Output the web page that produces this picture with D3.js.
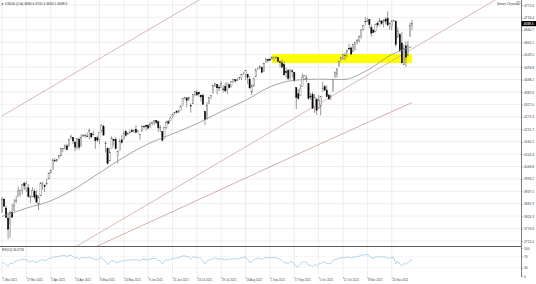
<!DOCTYPE html>
<html>
<head>
<meta charset="utf-8">
<script src="https://cdn.jsdelivr.net/npm/d3@7"></script>
<style>
html, body { margin: 0; padding: 0; background: #fff; }
svg { display: block; font-family: "Liberation Sans", Arial, sans-serif; }
</style>
</head>
<body>
<script>
// US500 (Cfd) daily, Mar - Dec 2021. CFD has bars on US holidays too.
const symbol = "US500 (Cfd)";
const indicatorName = "Smart Channel";

const barDays = [
  ["Mar", [1,2,3,4,5,8,9,10,11,12,15,16,17,18,19,22,23,24,25,26,29,30,31]],
  ["Apr", [1,2,5,6,7,8,9,12,13,14,15,16,19,20,21,22,23,26,27,28,29,30]],
  ["May", [3,4,5,6,7,10,11,12,13,14,17,18,19,20,21,24,25,26,27,28,31]],
  ["Jun", [1,2,3,4,7,8,9,10,11,14,15,16,17,18,21,22,23,24,25,28,29,30]],
  ["Jul", [1,2,5,6,7,8,9,12,13,14,15,16,19,20,21,22,23,26,27,28,29,30]],
  ["Aug", [2,3,4,5,6,9,10,11,12,13,16,17,18,19,20,23,24,25,26,27,30,31]],
  ["Sep", [1,2,3,6,7,8,9,10,13,14,15,16,17,20,21,22,23,24,27,28,29,30]],
  ["Oct", [1,4,5,6,7,8,11,12,13,14,15,18,19,20,21,22,25,26,27,28,29]],
  ["Nov", [1,2,3,4,5,8,9,10,11,12,15,16,17,18,19,22,23,24,25,26,29,30]],
  ["Dec", [1,2,3,6,7,8]]
];

// open, high, low, close
const ohlc = [
  // Mar
  [3842,3914,3842,3901],[3903,3906,3868,3870],[3863,3874,3818,3820],[3818,3843,3723,3768],[3793,3851,3730,3842],
  [3844,3881,3819,3821],[3851,3903,3848,3875],[3891,3917,3885,3898],[3915,3960,3915,3939],[3924,3944,3915,3943],
  [3942,3970,3924,3969],[3973,3981,3943,3962],[3949,3983,3935,3974],[3953,3969,3910,3915],[3913,3919,3885,3913],
  [3916,3956,3911,3941],[3937,3949,3901,3911],[3919,3942,3888,3889],[3880,3919,3853,3910],[3917,3978,3917,3975],
  [3969,3981,3944,3971],[3963,3968,3934,3959],[3967,3994,3965,3973],
  // Apr
  [3993,4021,3993,4020],[4020,4035,4018,4030],[4034,4084,4034,4078],[4075,4086,4068,4074],[4074,4083,4068,4080],
  [4089,4098,4082,4097],[4096,4129,4095,4129],[4124,4131,4114,4128],[4130,4148,4124,4141],[4141,4151,4120,4124],
  [4140,4173,4139,4170],[4175,4191,4171,4185],[4179,4181,4149,4163],[4159,4160,4118,4135],[4128,4175,4126,4173],
  [4171,4179,4123,4135],[4138,4194,4138,4180],[4185,4194,4182,4188],[4188,4193,4176,4187],[4185,4201,4181,4183],
  [4206,4218,4170,4211],[4198,4199,4175,4181],
  // May
  [4191,4209,4188,4192],[4179,4179,4128,4164],[4177,4187,4158,4167],[4170,4202,4148,4201],[4210,4238,4202,4233],
  [4228,4236,4188,4189],[4150,4162,4111,4152],[4130,4135,4057,4063],[4074,4131,4074,4113],[4130,4183,4130,4174],
  [4170,4172,4142,4164],[4169,4180,4127,4128],[4098,4117,4062,4116],[4121,4172,4121,4160],[4168,4189,4152,4156],
  [4170,4209,4170,4197],[4205,4213,4182,4188],[4191,4202,4188,4196],[4201,4213,4197,4201],[4210,4218,4203,4204],
  [4204,4215,4199,4211],
  // Jun
  [4216,4234,4197,4202],[4206,4212,4198,4208],[4191,4196,4168,4192],[4207,4233,4206,4230],[4229,4232,4218,4226],
  [4233,4236,4209,4227],[4232,4238,4219,4220],[4228,4249,4220,4239],[4242,4249,4233,4247],[4248,4255,4234,4255],
  [4255,4257,4238,4246],[4249,4252,4203,4223],[4220,4234,4203,4222],[4205,4205,4164,4166],[4173,4226,4173,4224],
  [4224,4255,4217,4246],[4249,4256,4241,4242],[4256,4271,4256,4266],[4274,4286,4267,4281],[4285,4292,4281,4291],
  [4294,4301,4287,4291],[4291,4302,4288,4298],
  // Jul
  [4300,4320,4300,4320],[4322,4355,4322,4352],[4352,4360,4348,4357],[4356,4357,4313,4344],[4351,4361,4342,4358],
  [4321,4331,4290,4320],[4329,4372,4329,4370],[4372,4387,4362,4385],[4381,4393,4365,4369],[4381,4384,4360,4374],
  [4369,4369,4340,4360],[4367,4376,4325,4327],[4296,4296,4233,4258],[4265,4337,4259,4323],[4331,4359,4330,4359],
  [4361,4369,4350,4367],[4381,4415,4375,4412],[4409,4422,4405,4422],[4416,4416,4372,4401],[4403,4415,4387,4400],
  [4404,4430,4403,4419],[4396,4412,4381,4395],
  // Aug
  [4407,4422,4384,4387],[4392,4423,4373,4423],[4415,4417,4398,4402],[4406,4430,4403,4429],[4429,4440,4424,4437],
  [4437,4439,4425,4432],[4436,4445,4430,4436],[4442,4449,4436,4447],[4446,4461,4436,4460],[4464,4468,4461,4468],
  [4462,4480,4437,4479],[4462,4462,4418,4448],[4440,4454,4400,4400],[4382,4418,4368,4406],[4410,4444,4406,4442],
  [4450,4489,4450,4480],[4484,4492,4482,4486],[4490,4501,4485,4497],[4493,4496,4468,4470],[4474,4513,4474,4509],
  [4514,4537,4513,4529],[4529,4531,4515,4523],
  // Sep
  [4529,4537,4522,4524],[4534,4545,4527,4537],[4532,4541,4522,4535],[4535,4543,4530,4538],[4536,4536,4513,4520],
  [4518,4521,4493,4514],[4513,4529,4493,4493],[4506,4520,4457,4459],[4474,4492,4446,4469],[4479,4485,4435,4443],
  [4447,4486,4438,4480],[4477,4485,4448,4473],[4470,4471,4427,4433],[4402,4402,4306,4358],[4374,4394,4347,4354],
  [4368,4416,4367,4396],[4406,4465,4406,4449],[4439,4458,4436,4455],[4443,4457,4426,4443],[4419,4419,4346,4353],
  [4363,4378,4348,4360],[4370,4382,4307,4308],
  // Oct
  [4317,4375,4288,4357],[4349,4356,4279,4300],[4310,4369,4309,4346],[4319,4365,4278,4363],[4384,4429,4384,4400],
  [4406,4413,4387,4391],[4391,4412,4361,4361],[4368,4375,4347,4351],[4359,4373,4346,4364],[4386,4440,4386,4438],
  [4447,4475,4447,4471],[4463,4488,4447,4486],[4497,4520,4496,4519],[4524,4540,4524,4537],[4532,4551,4526,4549],
  [4547,4559,4524,4545],[4554,4572,4537,4567],[4578,4598,4569,4575],[4580,4585,4551,4551],[4562,4597,4562,4596],
  [4572,4608,4567,4605],
  // Nov
  [4610,4620,4595,4614],[4613,4635,4604,4631],[4630,4664,4621,4660],[4663,4681,4657,4680],[4699,4718,4681,4697],
  [4701,4714,4694,4701],[4707,4708,4670,4685],[4670,4685,4630,4646],[4659,4664,4648,4649],[4655,4688,4650,4683],
  [4689,4698,4672,4683],[4679,4714,4679,4701],[4701,4701,4684,4689],[4700,4708,4672,4705],[4708,4718,4686,4698],
  [4712,4744,4680,4682],[4679,4694,4660,4690],[4675,4702,4659,4701],[4701,4706,4697,4703],[4700,4702,4585,4595],
  [4629,4672,4625,4655],[4640,4646,4560,4567],
  // Dec
  [4602,4652,4510,4513],[4504,4595,4504,4577],[4589,4608,4495,4538],[4548,4612,4541,4591],[4631,4694,4631,4680],
  [4680.6,4705.4,4660.5,4688.6]
];

// 50 period MA (grey): [bar, value]
const ma50 = [[0,3825],[12,3862],[24,3895],[36,3950],[48,4020],[60,4090],[72,4150],[84,4195],[96,4240],
  [108,4295],[120,4345],[132,4405],[144,4435],[156,4440],[168,4438],[180,4480],[192,4550],[202,4585]];
// long MA (brown)
const ma200 = [[0,3497],[50,3705],[100,3913],[150,4122],[202,4335]];
// channel lines [bar, price]
const channelUpper = [[0,4275],[250,5612]];
const channelLower = [[0,3495],[250,4832]];
// yellow zone
const zoneBars = [133, 202];
const zonePrices = [4512, 4552];

const priceTicks = [4772.0,4716.4,4660.7,4605.1,4549.5,4493.8,4438.2,4382.6,4327.0,4271.3,
  4215.7,4160.1,4104.4,4048.8,3993.2,3937.5,3881.9,3826.3,3770.6,3715.0];
const rsiTicks = [100, 70, 30, 0];
const rsiLevels = [70, 30];
const rsiSeed = [13, 13];
const timeTicks = ["1 Mar 2021","17 Mar 2021","2 Apr 2021","20 Apr 2021","6 May 2021","24 May 2021",
  "9 Jun 2021","25 Jun 2021","13 Jul 2021","29 Jul 2021","16 Aug 2021","1 Sep 2021","17 Sep 2021",
  "5 Oct 2021","21 Oct 2021","8 Nov 2021","24 Nov 2021"];

const dates = [];
barDays.forEach(([m, days]) => days.forEach(d => dates.push(d + " " + m + " 2021")));
const closes = ohlc.map(d => d[3]);

// RSI(14), Wilder smoothing
const rsi = [];
let ag = rsiSeed[0], al = rsiSeed[1];
closes.forEach((c, i) => {
  if (i > 0) {
    const ch = c - closes[i - 1];
    ag = (ag * 13 + Math.max(ch, 0)) / 14;
    al = (al * 13 + Math.max(-ch, 0)) / 14;
  }
  rsi.push(100 - 100 / (1 + ag / al));
});

const W = 536, H = 284, plotR = 521, mainB = 246, rsiT = 247, rsiB = 277;

const svg = d3.select("body").append("svg").attr("width", W).attr("height", H);

const x = d3.scaleLinear().domain([0, 202]).range([2, 412]);
const y = d3.scaleLinear().domain([3692.6, 4794.4]).range([mainB, 0]);
const yr = d3.scaleLinear().domain([0, 100]).range([276, 248]);

const defs = svg.append("defs");
defs.append("clipPath").attr("id", "clipMain").append("rect")
  .attr("x", 0).attr("y", 0).attr("width", plotR).attr("height", mainB);
defs.append("clipPath").attr("id", "clipRsi").append("rect")
  .attr("x", 0).attr("y", rsiT).attr("width", plotR).attr("height", rsiB - rsiT);

// grid
const grid = svg.append("g").attr("stroke", "#e2e2e2").attr("stroke-width", 0.6);
grid.selectAll(".hg").data(priceTicks).join("line")
  .attr("x1", 0).attr("x2", plotR).attr("y1", d => y(d)).attr("y2", d => y(d));
grid.selectAll(".vg").data(timeTicks).join("line")
  .attr("x1", d => x(dates.indexOf(d))).attr("x2", d => x(dates.indexOf(d)))
  .attr("y1", 0).attr("y2", rsiB);

const main = svg.append("g").attr("clip-path", "url(#clipMain)");

// yellow zone
main.append("rect")
  .attr("x", x(zoneBars[0])).attr("width", x(zoneBars[1]) - x(zoneBars[0]))
  .attr("y", y(zonePrices[1])).attr("height", y(zonePrices[0]) - y(zonePrices[1]))
  .attr("fill", "#ffff00");

const line = d3.line().x(d => x(d[0])).y(d => y(d[1]));

[channelUpper, channelLower].forEach(c => {
  main.append("path").attr("d", line(c)).attr("fill", "none")
    .attr("stroke", "#c99a90").attr("stroke-width", 0.7);
});
main.append("path").attr("d", line.curve(d3.curveMonotoneX)(ma200)).attr("fill", "none")
  .attr("stroke", "#c08e88").attr("stroke-width", 0.7);

// candles
const candles = main.selectAll(".c").data(ohlc).join("g");
candles.append("line")
  .attr("x1", (d, i) => x(i)).attr("x2", (d, i) => x(i))
  .attr("y1", d => y(d[1])).attr("y2", d => y(d[2]))
  .attr("stroke", "#555").attr("stroke-width", 0.6);
candles.append("rect")
  .attr("x", (d, i) => x(i) - 0.65).attr("width", 1.3)
  .attr("y", d => y(Math.max(d[0], d[3])))
  .attr("height", d => Math.max(0.4, Math.abs(y(d[0]) - y(d[3]))))
  .attr("fill", d => d[3] >= d[0] ? "#fff" : "#000")
  .attr("stroke", d => d[3] >= d[0] ? "#555" : "#000")
  .attr("stroke-width", 0.35);

main.append("path").attr("d", line.curve(d3.curveMonotoneX)(ma50)).attr("fill", "none")
  .attr("stroke", "#8c8f9c").attr("stroke-width", 0.8);

// RSI panel
const rp = svg.append("g").attr("clip-path", "url(#clipRsi)");
rp.selectAll(".lv").data(rsiLevels).join("line")
  .attr("x1", 0).attr("x2", plotR).attr("y1", d => yr(d)).attr("y2", d => yr(d))
  .attr("stroke", "#d8d8d8").attr("stroke-width", 0.5).attr("stroke-dasharray", "1,1");
rp.append("path")
  .attr("d", d3.line().x((d, i) => x(i)).y(d => yr(d))(rsi))
  .attr("fill", "none").attr("stroke", "#9ccbe6").attr("stroke-width", 0.8);

// frame lines
svg.append("line").attr("x1", 0).attr("x2", plotR).attr("y1", mainB + 0.5).attr("y2", mainB + 0.5)
  .attr("stroke", "#5a5a5a").attr("stroke-width", 1.2);
svg.append("line").attr("x1", plotR + 0.5).attr("x2", plotR + 0.5).attr("y1", 0).attr("y2", rsiB)
  .attr("stroke", "#5a5a5a").attr("stroke-width", 0.8);

// price axis
const pa = svg.append("g").attr("transform", `translate(${plotR + 0.5},0)`)
  .call(d3.axisRight(y).tickValues(priceTicks).tickFormat(d3.format(".1f")).tickSize(1.5).tickPadding(1));
pa.select(".domain").remove();
pa.selectAll("line").attr("stroke", "#666").attr("stroke-width", 0.5);
pa.selectAll("text").attr("font-size", 3.3).attr("fill", "#444").attr("font-family", null);

const ra = svg.append("g").attr("transform", `translate(${plotR + 0.5},0)`)
  .call(d3.axisRight(yr).tickValues(rsiTicks).tickSize(1.5).tickPadding(1));
ra.select(".domain").remove();
ra.selectAll("line").attr("stroke", "#666").attr("stroke-width", 0.5);
ra.selectAll("text").attr("font-size", 3.3).attr("fill", "#444").attr("font-family", null);

// time axis
const ta = svg.append("g").attr("transform", `translate(0,${rsiB})`)
  .call(d3.axisBottom(x).tickValues(timeTicks.map(t => dates.indexOf(t)))
    .tickFormat(i => dates[i]).tickSize(1.5).tickPadding(1));
ta.select(".domain").remove();
ta.selectAll("line").attr("stroke", "#666").attr("stroke-width", 0.5);
ta.selectAll("text").attr("font-size", 2.8).attr("fill", "#444").attr("font-family", null)
  .attr("text-anchor", "start").attr("dx", 0.3);

// current price box
const last = ohlc[ohlc.length - 1];
svg.append("rect").attr("x", plotR + 0.5).attr("y", y(last[3]) - 2.6).attr("width", W - plotR)
  .attr("height", 5.2).attr("fill", "#000");
svg.append("text").attr("x", plotR + 2.5).attr("y", y(last[3]) + 1.2)
  .attr("font-size", 3.3).attr("fill", "#fff").text(d3.format(".1f")(last[3]));

// labels
svg.append("text").attr("x", 1).attr("y", 5).attr("font-size", 3).attr("fill", "#333").text("\u25BC");
svg.append("text").attr("x", 5).attr("y", 5).attr("font-size", 3.3).attr("fill", "#333")
  .text(symbol + "  " + last.map(d3.format(".1f")).join(" "));
svg.append("text").attr("x", 2).attr("y", 251).attr("font-size", 3).attr("fill", "#333")
  .text("RSI(14) " + rsi[rsi.length - 1].toFixed(4));
svg.append("text").attr("x", 497).attr("y", 4.5).attr("font-size", 3.3).attr("fill", "#444")
  .text(indicatorName);
svg.append("rect").attr("x", 517).attr("y", 1.5).attr("width", 3).attr("height", 3)
  .attr("fill", "none").attr("stroke", "#777").attr("stroke-width", 0.4);
</script>
</body>
</html>
